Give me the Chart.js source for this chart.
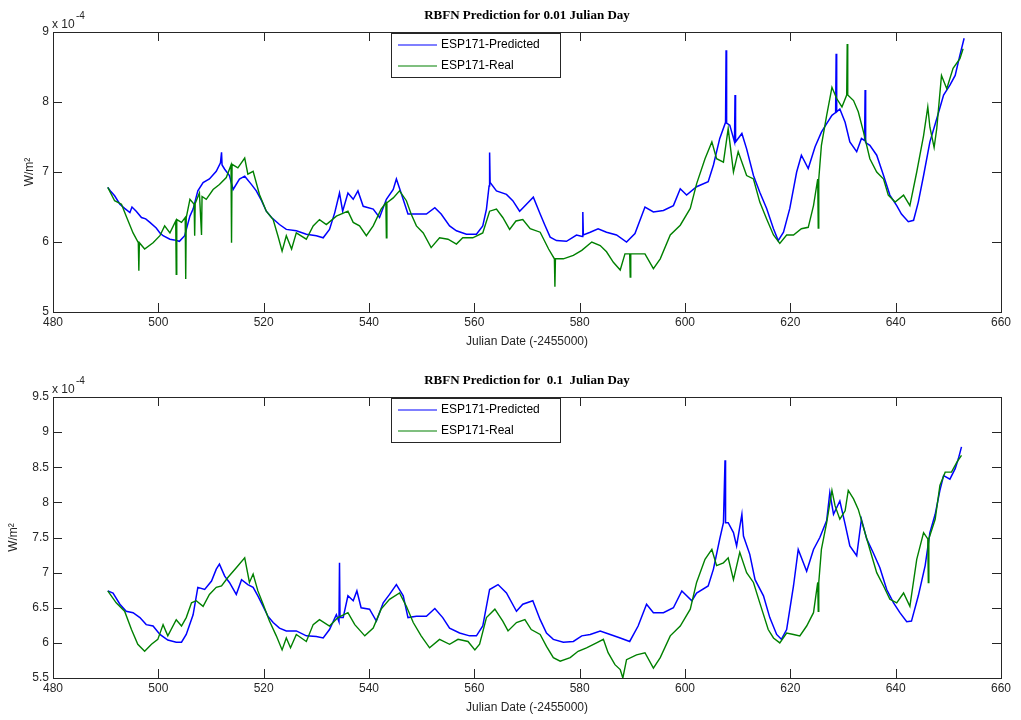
<!DOCTYPE html>
<html>
<head>
<meta charset="utf-8">
<script src="https://cdn.jsdelivr.net/npm/chart.js@4.4.1/dist/chart.umd.min.js"></script>
<style>
  body { margin: 0; background: #fff; }
  .plot { position: absolute; left: 0; width: 1021px; height: 360px; }
</style>
</head>
<body>
<div class="plot" style="top:0"><canvas id="topChart" width="1021" height="360"></canvas></div>
<div class="plot" style="top:360px"><canvas id="bottomChart" width="1021" height="360"></canvas></div>
<script>
// values are in units of 1e-4 W/m^2, x is Julian date - 2455000
const topPredX = [490.4,491.0,491.7,492.7,493.6,494.6,495.0,495.8,496.8,497.6,498.4,499.6,500.3,500.9,502.2,503.0,504.0,505.0,506.0,506.6,507.5,508.5,509.7,511.0,511.8,512.0,512.1,512.6,513.5,514.2,515.4,516.4,517.7,518.6,519.6,520.5,521.5,523.0,524.3,526.2,528.1,530.0,531.3,532.5,533.5,534.4,535.0,536.0,537.0,537.9,538.9,540.8,542.0,543.3,544.6,545.2,546.1,547.4,549.0,550.9,552.5,553.7,555.3,556.6,558.5,560.4,561.6,562.3,562.8,562.9,563.0,564.2,566.1,567.3,568.6,569.9,571.2,572.5,573.4,574.4,575.6,577.5,579.4,580.5,580.6,580.7,582.0,583.5,585.1,587.0,588.9,590.5,592.4,594.0,595.9,597.8,599.1,600.3,602.2,604.4,605.4,606.6,607.7,607.8,607.9,608.5,609.4,609.5,609.6,610.8,611.7,613.0,614.2,615.5,616.8,617.7,618.7,619.9,621.2,622.1,623.4,624.7,625.9,626.9,627.9,628.6,628.7,628.8,629.4,630.4,631.3,632.6,633.5,634.1,634.2,634.3,635.1,636.4,637.7,638.9,640.2,641.1,642.4,643.4,644.3,645.3,646.5,647.8,649.1,650.3,651.3,652.2,653.0];
const topPredY = [6.78,6.72,6.66,6.54,6.48,6.42,6.50,6.44,6.35,6.33,6.28,6.20,6.13,6.09,6.04,6.03,6.01,6.09,6.37,6.47,6.73,6.85,6.90,7.01,7.13,7.28,7.10,7.04,6.95,6.75,6.90,6.94,6.82,6.73,6.59,6.44,6.35,6.25,6.18,6.16,6.11,6.09,6.06,6.18,6.42,6.70,6.44,6.70,6.61,6.73,6.51,6.47,6.35,6.61,6.75,6.90,6.70,6.40,6.40,6.40,6.49,6.40,6.23,6.16,6.11,6.11,6.23,6.47,6.80,7.28,6.85,6.73,6.68,6.59,6.44,6.54,6.64,6.40,6.24,6.07,6.02,6.01,6.10,6.08,6.43,6.10,6.14,6.19,6.14,6.10,6.00,6.12,6.50,6.43,6.45,6.52,6.76,6.67,6.79,6.86,7.10,7.48,7.71,8.74,7.70,7.67,7.43,8.10,7.43,7.55,7.33,6.95,6.71,6.48,6.19,6.02,6.14,6.48,7.00,7.24,7.05,7.36,7.57,7.69,7.81,7.85,8.69,7.86,7.90,7.71,7.43,7.29,7.48,7.45,8.17,7.42,7.38,7.24,6.95,6.67,6.52,6.40,6.29,6.31,6.57,6.95,7.43,7.76,8.10,8.24,8.38,8.67,8.91];

const topRealX = [490.4,491.7,493.0,494.0,495.2,496.2,496.3,496.4,497.4,499.0,500.3,501.2,502.2,503.3,503.4,503.5,504.4,505.1,505.2,505.3,506.0,506.8,506.9,507.0,507.8,508.2,508.3,509.1,510.4,511.6,512.9,513.8,513.9,514.0,515.1,516.4,517.0,518.0,519.2,520.5,521.8,522.7,523.5,524.3,525.3,526.2,528.1,529.4,530.6,531.9,533.8,536.0,537.0,538.2,539.5,540.8,542.3,543.2,543.3,543.4,544.6,545.8,547.1,548.0,549.0,550.3,551.8,553.4,555.0,556.6,557.8,559.7,561.6,562.9,564.2,565.4,566.7,567.9,569.2,570.6,572.5,574.1,575.2,575.3,575.4,576.9,578.8,580.4,582.3,583.9,585.1,586.4,587.7,588.6,589.5,589.6,589.7,590.5,592.4,594.0,595.3,597.2,599.1,601.0,602.2,603.8,605.1,606.0,607.3,608.2,609.2,610.1,611.7,613.0,614.2,615.5,616.8,618.0,619.3,620.6,622.1,623.4,624.4,625.2,625.3,625.4,625.9,626.9,627.9,628.8,629.8,630.7,630.8,630.9,632.0,632.9,633.9,635.1,636.4,637.7,638.6,639.9,641.5,642.7,644.0,645.3,646.1,646.5,647.3,647.8,648.7,649.7,650.9,652.2,652.8];
const topRealY = [6.78,6.59,6.54,6.35,6.13,5.99,5.59,5.99,5.90,5.99,6.09,6.23,6.13,6.30,5.54,6.32,6.28,6.35,5.47,6.35,6.61,6.54,6.09,6.55,6.70,6.10,6.65,6.61,6.75,6.82,6.92,7.10,5.99,7.11,7.06,7.20,6.97,7.01,6.68,6.44,6.32,6.09,5.87,6.09,5.90,6.13,6.04,6.23,6.32,6.25,6.37,6.44,6.28,6.23,6.09,6.23,6.47,6.56,6.06,6.56,6.63,6.73,6.59,6.40,6.23,6.13,5.92,6.06,6.04,5.97,6.06,6.06,6.13,6.44,6.47,6.35,6.18,6.30,6.32,6.19,6.14,5.90,5.76,5.36,5.76,5.76,5.81,5.88,6.00,5.95,5.86,5.71,5.60,5.83,5.83,5.50,5.83,5.83,5.83,5.62,5.76,6.10,6.24,6.48,6.83,7.19,7.43,7.19,7.14,7.62,7.00,7.29,6.95,6.90,6.57,6.33,6.10,5.98,6.10,6.10,6.19,6.21,6.52,6.90,6.20,6.90,7.38,7.81,8.21,8.05,7.93,8.10,8.83,8.10,8.02,7.86,7.57,7.19,7.00,6.90,6.67,6.57,6.67,6.52,7.00,7.52,7.93,7.64,7.35,7.62,8.38,8.19,8.48,8.62,8.76];

const botPredX = [490.4,491.4,492.7,493.9,495.2,496.5,497.7,499.0,500.3,501.8,503.4,504.4,505.3,506.6,507.5,508.8,510.1,511.0,511.6,512.6,513.5,514.8,515.8,517.0,518.0,518.9,519.9,520.8,521.8,523.0,524.3,526.2,528.1,530.0,531.3,532.5,533.8,534.3,534.4,534.5,535.1,536.0,537.0,537.7,538.5,540.1,541.4,542.7,543.9,545.2,546.5,547.4,549.0,550.9,552.5,554.0,555.3,557.2,559.1,560.4,561.6,562.9,564.5,566.1,568.0,569.2,571.1,572.5,573.7,575.0,576.9,578.8,580.4,582.0,583.9,585.8,587.7,589.5,591.1,592.7,594.0,595.9,597.8,599.4,601.3,602.2,604.4,605.4,606.6,607.3,607.6,607.7,608.2,609.2,609.8,610.8,611.1,612.3,613.3,614.9,616.1,617.4,618.3,619.3,620.6,621.5,623.1,624.4,625.6,626.9,627.5,628.2,629.4,630.4,631.3,632.6,633.5,634.5,635.7,637.0,638.3,639.6,640.8,642.1,643.0,644.3,645.6,646.5,647.5,648.4,649.1,650.3,651.3,651.9,652.5];
const botPredY = [6.74,6.71,6.55,6.45,6.43,6.36,6.26,6.24,6.12,6.04,6.01,6.01,6.12,6.40,6.79,6.76,6.88,7.05,7.12,6.95,6.86,6.69,6.90,6.83,6.79,6.67,6.52,6.38,6.29,6.21,6.17,6.17,6.10,6.09,6.07,6.19,6.40,6.30,7.14,6.36,6.36,6.67,6.60,6.74,6.50,6.48,6.31,6.57,6.69,6.83,6.67,6.36,6.38,6.38,6.49,6.36,6.21,6.14,6.10,6.10,6.24,6.76,6.83,6.71,6.45,6.55,6.60,6.33,6.14,6.05,6.01,6.02,6.10,6.12,6.17,6.12,6.07,6.02,6.24,6.55,6.43,6.43,6.50,6.74,6.60,6.71,6.81,7.05,7.48,7.71,8.60,7.71,7.71,7.57,7.38,7.83,7.52,7.26,6.90,6.67,6.36,6.12,6.05,6.19,6.81,7.33,7.02,7.33,7.50,7.74,8.14,7.83,8.02,7.69,7.38,7.24,7.76,7.48,7.29,7.07,6.76,6.57,6.43,6.30,6.31,6.67,7.10,7.57,7.83,8.17,8.38,8.33,8.48,8.62,8.79];

const botRealX = [490.4,492.0,493.6,494.9,496.1,497.4,498.7,499.9,500.9,501.8,503.4,504.4,505.3,506.3,507.2,508.5,509.7,511.0,512.0,513.2,514.8,516.4,517.3,518.0,518.9,519.9,521.1,522.4,523.5,524.3,525.1,526.2,528.1,529.4,530.6,532.5,534.1,536.0,537.3,539.2,540.8,542.3,543.9,545.8,547.1,548.4,549.9,551.5,553.4,555.3,556.9,558.8,560.1,561.0,562.3,563.9,565.4,566.4,568.0,569.6,570.8,572.5,573.7,575.0,576.3,578.2,579.7,581.3,583.2,584.5,585.4,586.7,587.7,588.2,588.9,590.8,592.4,594.0,595.3,597.2,599.1,601.0,602.2,603.8,605.1,606.0,607.3,608.2,609.2,610.4,611.7,613.0,614.2,615.8,616.8,618.0,619.3,620.6,621.8,623.1,624.4,625.2,625.3,625.4,625.9,626.9,627.9,628.5,629.4,630.4,631.0,632.0,632.9,633.9,635.1,636.4,637.7,638.9,640.2,641.5,642.7,644.0,645.3,646.1,646.2,646.3,647.5,648.4,649.4,650.6,651.6,652.5];
const botRealY = [6.74,6.57,6.45,6.19,5.98,5.88,5.98,6.05,6.26,6.10,6.33,6.24,6.36,6.57,6.60,6.52,6.69,6.79,6.81,6.93,7.07,7.21,6.86,6.98,6.74,6.55,6.31,6.10,5.90,6.07,5.93,6.12,6.02,6.26,6.33,6.24,6.36,6.43,6.26,6.10,6.21,6.48,6.62,6.71,6.52,6.29,6.10,5.93,6.05,5.98,6.05,6.02,5.90,5.98,6.36,6.48,6.31,6.17,6.29,6.33,6.19,6.12,5.95,5.79,5.74,5.79,5.88,5.93,6.00,6.05,5.86,5.69,5.62,5.50,5.76,5.83,5.86,5.64,5.79,6.10,6.24,6.48,6.86,7.19,7.33,7.10,7.14,7.21,6.90,7.29,7.00,6.86,6.57,6.19,6.07,6.00,6.14,6.12,6.10,6.24,6.43,6.86,6.45,6.86,7.33,7.71,8.17,7.95,7.76,7.88,8.17,8.05,7.90,7.64,7.33,7.00,6.81,6.62,6.57,6.71,6.52,7.19,7.57,7.48,6.86,7.48,7.76,8.24,8.43,8.43,8.57,8.67];

const seriesNames = ['ESP171-Predicted', 'ESP171-Real'];
const seriesColors = ['#0000ff', '#008000'];

function toPoints(xs, ys) {
    return xs.map((x, i) => ({ x: x, y: ys[i] }));
}

const labelFont = { family: '"Liberation Sans", Arial, sans-serif', size: 12 };

// MATLAB-ish box, inward ticks, title, exponent and legend
const matlabAxes = {
    id: 'matlabAxes',
    afterDraw(chart, args, opts) {
        const ctx = chart.ctx;
        const a = chart.chartArea;
        const xs = chart.scales.x;
        const ys = chart.scales.y;
        ctx.save();
        ctx.strokeStyle = '#262626';
        ctx.lineWidth = 1;
        ctx.beginPath();
        xs.ticks.forEach(t => {
            const px = Math.round(xs.getPixelForValue(t.value)) + 0.5;
            ctx.moveTo(px, a.bottom); ctx.lineTo(px, a.bottom - 9);
            ctx.moveTo(px, a.top); ctx.lineTo(px, a.top + 9);
        });
        ys.ticks.forEach(t => {
            const py = Math.round(ys.getPixelForValue(t.value)) + 0.5;
            ctx.moveTo(a.left, py); ctx.lineTo(a.left + 9, py);
            ctx.moveTo(a.right, py); ctx.lineTo(a.right - 9, py);
        });
        ctx.stroke();
        ctx.strokeRect(Math.round(a.left) + 0.5, Math.round(a.top) + 0.5,
            Math.round(a.right - a.left), Math.round(a.bottom - a.top));

        // title
        ctx.fillStyle = '#000';
        ctx.font = 'bold 13px "Liberation Serif", "Times New Roman", serif';
        ctx.textAlign = 'center';
        ctx.textBaseline = 'middle';
        ctx.fillText(opts.title, (a.left + a.right) / 2, a.top - 16);

        // exponent
        ctx.fillStyle = '#262626';
        ctx.font = '12px "Liberation Sans", Arial, sans-serif';
        ctx.textAlign = 'left';
        ctx.textBaseline = 'alphabetic';
        ctx.fillText('x 10', a.left - 1, a.top - 4);
        ctx.font = '10px "Liberation Sans", Arial, sans-serif';
        ctx.fillText('-4', a.left + 23, a.top - 13);

        // legend
        const lg = opts.legend;
        ctx.fillStyle = '#fff';
        ctx.fillRect(lg.x, lg.y, lg.w, lg.h);
        ctx.strokeStyle = '#262626';
        ctx.lineWidth = 1;
        ctx.strokeRect(lg.x + 0.5, lg.y + 0.5, lg.w, lg.h);
        ctx.font = '12px "Liberation Sans", Arial, sans-serif';
        ctx.textBaseline = 'middle';
        chart.data.datasets.forEach((ds, i) => {
            const cy = lg.y + 12 + i * 21;
            ctx.strokeStyle = seriesColors[i];
            ctx.lineWidth = 1.2;
            ctx.beginPath();
            ctx.moveTo(lg.x + 7, cy);
            ctx.lineTo(lg.x + 46, cy);
            ctx.stroke();
            ctx.fillStyle = '#000';
            ctx.fillText(ds.label, lg.x + 50, cy);
        });
        ctx.restore();
    }
};

function makeChart(id, cfg) {
    const ctx = document.getElementById(id).getContext('2d');
    return new Chart(ctx, {
        type: 'line',
        data: {
            datasets: [{
                label: seriesNames[0],
                data: toPoints(cfg.predX, cfg.predY),
                borderColor: seriesColors[0],
                borderWidth: 1.5,
                pointRadius: 0,
                tension: 0,
                order: 1
            }, {
                label: seriesNames[1],
                data: toPoints(cfg.realX, cfg.realY),
                borderColor: seriesColors[1],
                borderWidth: 1.4,
                pointRadius: 0,
                tension: 0,
                order: 0
            }]
        },
        options: {
            responsive: false,
            animation: false,
            layout: { padding: { left: 0, top: cfg.padTop, right: 20, bottom: 0 } },
            plugins: {
                legend: { display: false },
                tooltip: { enabled: false },
                matlabAxes: { title: cfg.title, legend: cfg.legend }
            },
            scales: {
                x: {
                    type: 'linear',
                    min: 480,
                    max: 660,
                    afterFit: s => { s.height = cfg.xHeight; },
                    grid: { display: false, drawTicks: false },
                    border: { display: false },
                    ticks: { stepSize: 20, padding: 3, color: '#262626', font: labelFont, maxRotation: 0 },
                    title: {
                        display: true,
                        text: 'Julian Date (-2455000)',
                        color: '#262626',
                        font: labelFont,
                        padding: { top: 0, bottom: cfg.xTitlePad }
                    }
                },
                y: {
                    min: cfg.yMin,
                    max: cfg.yMax,
                    afterFit: s => { s.width = 53; },
                    grid: { display: false, drawTicks: false },
                    border: { display: false },
                    ticks: {
                        stepSize: cfg.yStep,
                        padding: 4,
                        color: '#262626',
                        font: labelFont,
                        callback: v => String(parseFloat(v.toFixed(1)))
                    },
                    title: {
                        display: true,
                        text: 'W/m²',
                        color: '#262626',
                        font: labelFont,
                        padding: { top: cfg.yTitlePad, bottom: 0 }
                    }
                }
            }
        },
        plugins: [matlabAxes]
    });
}

makeChart('topChart', {
    predX: topPredX, predY: topPredY, realX: topRealX, realY: topRealY,
    title: 'RBFN Prediction for 0.01 Julian Day',
    padTop: 32, xHeight: 48, xTitlePad: 11, yTitlePad: 22,
    yMin: 5, yMax: 9, yStep: 1,
    legend: { x: 391, y: 33, w: 169, h: 44 }
});

makeChart('bottomChart', {
    predX: botPredX, predY: botPredY, realX: botRealX, realY: botRealY,
    title: 'RBFN Prediction for  0.1  Julian Day',
    padTop: 37, xHeight: 42, xTitlePad: 5, yTitlePad: 6,
    yMin: 5.5, yMax: 9.5, yStep: 0.5,
    legend: { x: 391, y: 38, w: 169, h: 44 }
});
</script>
</body>
</html>
